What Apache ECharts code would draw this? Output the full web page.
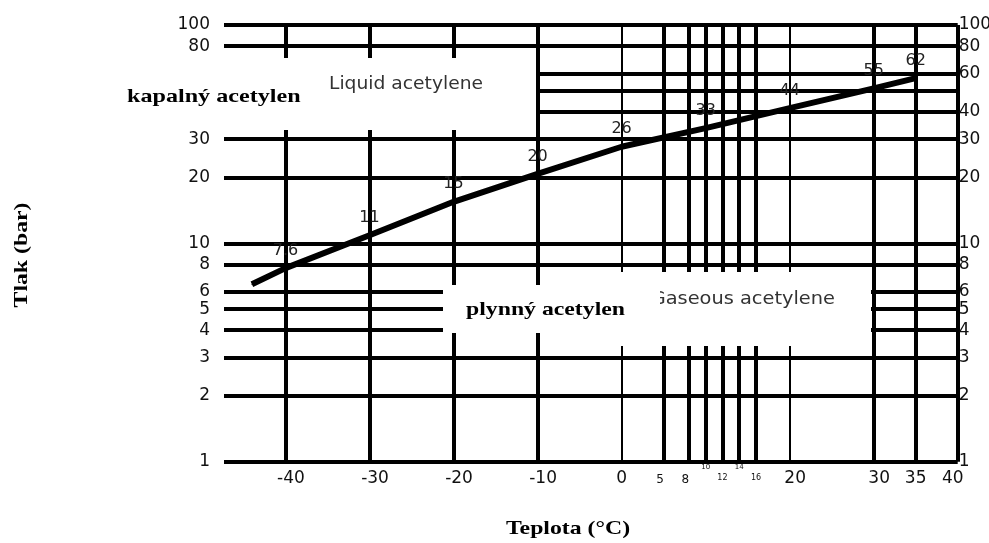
<!DOCTYPE html>
<html>
<head>
<meta charset="utf-8">
<script src="https://cdn.jsdelivr.net/npm/echarts@6.0.0/dist/echarts.min.js"></script>
<style>
    html, body { margin: 0; padding: 0; background: #fff; }
    #chart { width: 989px; height: 543px; }
</style>
</head>
<body>
<div id="chart"></div>
<script type="text/javascript">
    // krivka tlaku par acetylenu
    var temps = [-44, -40, -30, -20, -10, 0, 10, 20, 30, 35];
    var pressures = [6.5, 7.7, 10.9, 15.5, 20.8, 27.7, 33.7, 41.6, 51.3, 57.1];
    var pointLabels = ['', '7.6', '11', '15', '20', '26', '33', '44', '55', '62'];

    // svisle cary a popisky osy x
    var xThickLines = [-40, -30, -20, -10, 5, 8, 10, 12, 14, 16, 30, 35, 40];
    var xThinLines = [0, 20];
    var xBigLabels = [-40, -30, -20, -10, 0, 20, 30, 35, 40];
    var xSmallLabels = [5, 8];
    var xTinyUpper = [10, 14];
    var xTinyLower = [12, 16];

    // vodorovne cary a popisky osy y (log)
    var yLines = [1, 2, 3, 4, 5, 6, 8, 10, 20, 30, 40, 50, 60, 80, 100];
    var yLeftLabels = [1, 2, 3, 4, 5, 6, 8, 10, 20, 30, 80, 100];
    var yRightLabels = [1, 2, 3, 4, 5, 6, 8, 10, 20, 30, 40, 60, 80, 100];

    var X_MIN = -47.32, X_MAX = 40;
    var labelFont = '"DejaVu Sans", sans-serif';
    var titleFont = '"Liberation Serif", "Times New Roman", serif';
    var tickColor = '#111';

    function xAxisDef(ticks, labels, lineWidth, fontSize, margin) {
        return {
            type: 'value',
            position: 'bottom',
            min: X_MIN,
            max: X_MAX,
            axisLine: { show: false },
            axisTick: { show: false, customValues: ticks },
            axisLabel: {
                show: labels.length > 0,
                customValues: labels.length ? labels : ticks,
                fontFamily: labelFont,
                fontSize: fontSize,
                color: tickColor,
                margin: margin
            },
            splitLine: {
                show: lineWidth > 0,
                lineStyle: { color: '#000', width: lineWidth || 1 }
            }
        };
    }

    function yAxisDef(pos, labels, lineWidth, margin) {
        return {
            type: 'log',
            logBase: 10,
            position: pos,
            min: 1,
            max: 100,
            axisLine: { show: false },
            axisTick: { show: false, customValues: yLines },
            axisLabel: {
                customValues: labels,
                fontFamily: labelFont,
                fontSize: 17,
                color: tickColor,
                margin: margin
            },
            splitLine: {
                show: lineWidth > 0,
                lineStyle: { color: '#000', width: lineWidth || 1 }
            }
        };
    }

    var lineData = [];
    for (var i = 0; i < temps.length; i++) {
        lineData.push([temps[i], pressures[i]]);
    }

    var mainX = xAxisDef(xThickLines, xBigLabels, 4, 17, 8);
    // popisky v predloze nejsou presne pod carami
    mainX.axisLabel.formatter = function (v) {
        if (v < 0 || v === 20 || v === 30) return '{r|' + v + '}';
        if (v === 40) return '{l|' + v + '}';
        return '' + v;
    };
    mainX.axisLabel.rich = {
        r: { fontFamily: labelFont, fontSize: 17, color: tickColor, padding: [0, 0, 0, 11] },
        l: { fontFamily: labelFont, fontSize: 17, color: tickColor, padding: [0, 10, 0, 0] }
    };
    var smallX = xAxisDef(xSmallLabels, xSmallLabels, 0, 12, 12);
    smallX.axisLabel.formatter = '{l|{value}}';
    smallX.axisLabel.rich = { l: { fontFamily: labelFont, fontSize: 12, color: tickColor, padding: [0, 7, 0, 0] } };

    var option = {
        animation: false,
        backgroundColor: '#fff',
        grid: {
            left: 224,
            right: 31.3,
            top: 25,
            bottom: 81.3,
            containLabel: false,
            outerBoundsMode: 'none'
        },
        xAxis: [
            mainX,
            xAxisDef(xThinLines, [], 2, 12, 8),
            smallX,
            xAxisDef(xTinyUpper, xTinyUpper, 0, 7, 2),
            xAxisDef(xTinyLower, xTinyLower, 0, 8, 12)
        ],
        yAxis: [
            yAxisDef('left', yLeftLabels, 4, 14),
            yAxisDef('right', yRightLabels, 0, 1)
        ],
        series: [
            {
                type: 'line',
                xAxisIndex: 0,
                yAxisIndex: 0,
                data: lineData,
                z: 10,
                symbol: 'circle',
                symbolSize: 1,
                showSymbol: true,
                itemStyle: { color: '#000' },
                lineStyle: { color: '#000', width: 6 },
                label: {
                    show: true,
                    position: 'top',
                    distance: 9,
                    fontFamily: labelFont,
                    fontSize: 16,
                    color: '#222',
                    formatter: function (p) {
                        return pointLabels[p.dataIndex];
                    }
                }
            }
        ],
        graphic: {
            elements: [
                // puvodni popisky v grafu (bila pole)
                { type: 'rect', z: 3, shape: { x: 224, y: 58, width: 312, height: 72 }, style: { fill: '#fff' } },
                { type: 'text', z: 4, x: 406, y: 85, scaleX: 1.1, style: { text: 'Liquid acetylene', font: '17px ' + labelFont, fill: '#333', textAlign: 'center', textVerticalAlign: 'middle' } },
                { type: 'text', z: 4, x: 127, y: 97, scaleX: 1.27, style: { text: 'kapalný acetylen', font: 'bold 19px ' + titleFont, fill: '#000', textAlign: 'left', textVerticalAlign: 'middle' } },
                { type: 'rect', z: 3, shape: { x: 560, y: 272, width: 311, height: 74 }, style: { fill: '#fff' } },
                { type: 'text', z: 4, x: 835, y: 300, scaleX: 1.14, style: { text: 'Gaseous acetylene', font: '17px ' + labelFont, fill: '#333', textAlign: 'right', textVerticalAlign: 'middle' } },
                { type: 'rect', z: 5, shape: { x: 443, y: 285, width: 217, height: 48 }, style: { fill: '#fff' } },
                { type: 'text', z: 6, x: 466, y: 310, scaleX: 1.25, style: { text: 'plynný acetylen', font: 'bold 19px ' + titleFont, fill: '#000', textAlign: 'left', textVerticalAlign: 'middle' } },
                // nazvy os
                { type: 'text', z: 6, x: 22, y: 255, rotation: Math.PI / 2, scaleX: 1.25, style: { text: 'Tlak (bar)', font: 'bold 19px ' + titleFont, fill: '#000', textAlign: 'center', textVerticalAlign: 'middle' } },
                { type: 'text', z: 6, x: 568, y: 529, scaleX: 1.25, style: { text: 'Teplota (°C)', font: 'bold 19px ' + titleFont, fill: '#000', textAlign: 'center', textVerticalAlign: 'middle' } }
            ]
        }
    };

    var myChart = echarts.init(document.getElementById('chart'));
    myChart.setOption(option);
</script>
</body>
</html>
